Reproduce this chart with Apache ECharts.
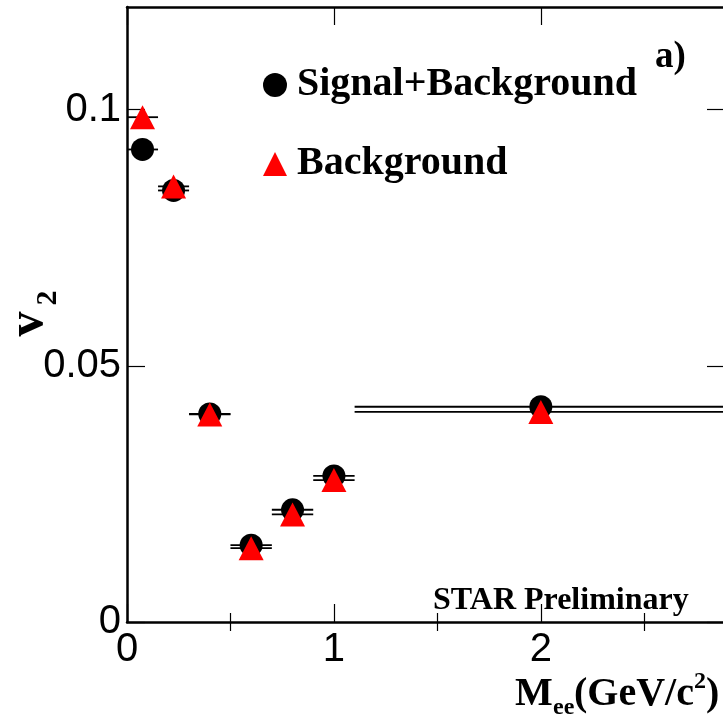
<!DOCTYPE html>
<html>
<head>
<meta charset="utf-8">
<script src="https://cdn.jsdelivr.net/npm/echarts@6/dist/echarts.min.js"></script>
<style>
html,body{margin:0;padding:0;background:#fff;}
#c{width:723px;height:719px;}
</style>
</head>
<body>
<div id="c"></div>
<script>
// Data
var massCenters = [0.075, 0.225, 0.4, 0.6, 0.8, 1.0, 2.0];
var massLow     = [0.0, 0.15, 0.3, 0.5, 0.7, 0.9, 1.1];
var massHigh    = [0.15, 0.3, 0.5, 0.7, 0.9, 1.1, 2.9];
var v2SignalBg  = [0.0922, 0.0842, 0.0406, 0.0150, 0.0219, 0.0285, 0.0420];
var v2Bg        = [0.0985, 0.0850, 0.0405, 0.0144, 0.0210, 0.0277, 0.0410];
var xTickLabels = [0, 1, 2];
var xMinorTicks = [0.5, 1.5, 2.5];
var yTickLabels = [0, 0.05, 0.1];
var seriesNames = ['Signal+Background', 'Background'];

function pts(ys){ return massCenters.map(function(x,i){ return [x, ys[i]]; }); }
function bars(ys){ return massCenters.map(function(x,i){ return [massLow[i], massHigh[i], ys[i]]; }); }

var serif = 'Liberation Serif';
var sans = 'Liberation Sans';

function errRender(params, api){
  var p1 = api.coord([api.value(0), api.value(2)]);
  var p2 = api.coord([api.value(1), api.value(2)]);
  return {type:'line', shape:{x1:p1[0], y1:p1[1], x2:p2[0], y2:p2[1]},
          style:{stroke:'#000', lineWidth:1.8}};
}

var chart = echarts.init(document.getElementById('c'), null, {renderer:'canvas'});
var axisLine = {show:true, onZero:false, lineStyle:{color:'#000', width:2.5}};
var XMAX = 2.89;
var option = {
  backgroundColor:'#fff',
  animation:false,
  grid:{left:127, top:7, width:598, height:615, containLabel:false, outerBoundsMode:'none'},
  xAxis:[
    {type:'value', position:'bottom', min:0, max:XMAX, axisLine:axisLine,
     splitLine:{show:false},
     axisTick:{show:true, inside:true, length:18, customValues:xTickLabels, lineStyle:{color:'#000', width:1.2}},
     axisLabel:{show:true, customValues:xTickLabels, margin:8, fontFamily:sans, fontSize:40, color:'#000'}},
    {type:'value', position:'bottom', min:0, max:XMAX, axisLine:{show:false},
     splitLine:{show:false},
     axisTick:{show:true, inside:true, length:9, customValues:xMinorTicks, lineStyle:{color:'#000', width:1.2}},
     axisLabel:{show:false}},
    {type:'value', position:'top', min:0, max:XMAX, axisLine:axisLine,
     splitLine:{show:false},
     axisTick:{show:true, inside:true, length:18, customValues:xTickLabels, lineStyle:{color:'#000', width:1.2}},
     axisLabel:{show:false}},
    {type:'value', position:'top', min:0, max:XMAX, axisLine:{show:false},
     splitLine:{show:false},
     axisTick:{show:true, inside:true, length:9, customValues:xMinorTicks, lineStyle:{color:'#000', width:1.2}},
     axisLabel:{show:false}}
  ],
  yAxis:[
    {type:'value', position:'left', min:0, max:0.12, axisLine:axisLine,
     splitLine:{show:false},
     axisTick:{show:true, inside:true, length:18, customValues:yTickLabels, lineStyle:{color:'#000', width:1.2}},
     axisLabel:{show:true, customValues:yTickLabels, margin:6, fontFamily:sans, fontSize:40, color:'#000',
       formatter:function(v){ return String(v); }}},
    {type:'value', position:'right', min:0, max:0.12, axisLine:axisLine,
     splitLine:{show:false},
     axisTick:{show:true, inside:true, length:18, customValues:yTickLabels, lineStyle:{color:'#000', width:1.2}},
     axisLabel:{show:false}}
  ],
  legend:{
    show:true, orient:'vertical', left:258, top:54, itemGap:27,
    itemWidth:24, itemHeight:24, selectedMode:false,
    data:seriesNames,
    textStyle:{fontFamily:serif, fontWeight:'bold', fontSize:40, color:'#000', lineHeight:40, padding:[0,0,12,5]}
  },
  series:[
    {type:'custom', name:'err1', renderItem:errRender, data:bars(v2SignalBg), z:1, clip:true,
     encode:{x:[0,1], y:2}, silent:true},
    {type:'custom', name:'err2', renderItem:errRender, data:bars(v2Bg), z:1, clip:true,
     encode:{x:[0,1], y:2}, silent:true},
    {type:'scatter', name:seriesNames[0], data:pts(v2SignalBg), symbol:'circle', symbolSize:23,
     itemStyle:{color:'#000', opacity:1}, z:3},
    {type:'scatter', name:seriesNames[1], data:pts(v2Bg), symbol:'triangle', symbolSize:[25,24],
     itemStyle:{color:'#ff0000', opacity:1}, z:4}
  ],
  graphic:[
    {type:'text', x:433, y:601, z:10, style:{text:'STAR Preliminary', fontFamily:serif, fontWeight:'bold', fontSize:32, fill:'#000', align:'left', verticalAlign:'middle'}},
    {type:'text', x:655, y:57, z:10, style:{text:'a)', fontFamily:serif, fontWeight:'bold', fontSize:37, fill:'#000', align:'left', verticalAlign:'middle'}},
    {type:'text', x:515, y:695, z:10, style:{text:'M', fontFamily:serif, fontWeight:'bold', fontSize:40, fill:'#000', align:'left', verticalAlign:'middle'}},
    {type:'text', x:553, y:708, z:10, style:{text:'ee', fontFamily:serif, fontWeight:'bold', fontSize:24, fill:'#000', align:'left', verticalAlign:'middle'}},
    {type:'text', x:574, y:695, z:10, style:{text:'(GeV/c', fontFamily:serif, fontWeight:'bold', fontSize:40, fill:'#000', align:'left', verticalAlign:'middle'}},
    {type:'text', x:694, y:682, z:10, style:{text:'2', fontFamily:serif, fontWeight:'bold', fontSize:24, fill:'#000', align:'left', verticalAlign:'middle'}},
    {type:'text', x:706, y:695, z:10, style:{text:')', fontFamily:serif, fontWeight:'bold', fontSize:40, fill:'#000', align:'left', verticalAlign:'middle'}},
    {type:'text', x:29, y:324, rotation:Math.PI/2, z:10, style:{text:'v', fontFamily:serif, fontWeight:'bold', fontSize:50, fill:'#000', align:'center', verticalAlign:'middle'}},
    {type:'text', x:48, y:298, rotation:Math.PI/2, z:10, style:{text:'2', fontFamily:serif, fontWeight:'bold', fontSize:30, fill:'#000', align:'center', verticalAlign:'middle'}}
  ]
};
chart.setOption(option);
</script>
</body>
</html>
